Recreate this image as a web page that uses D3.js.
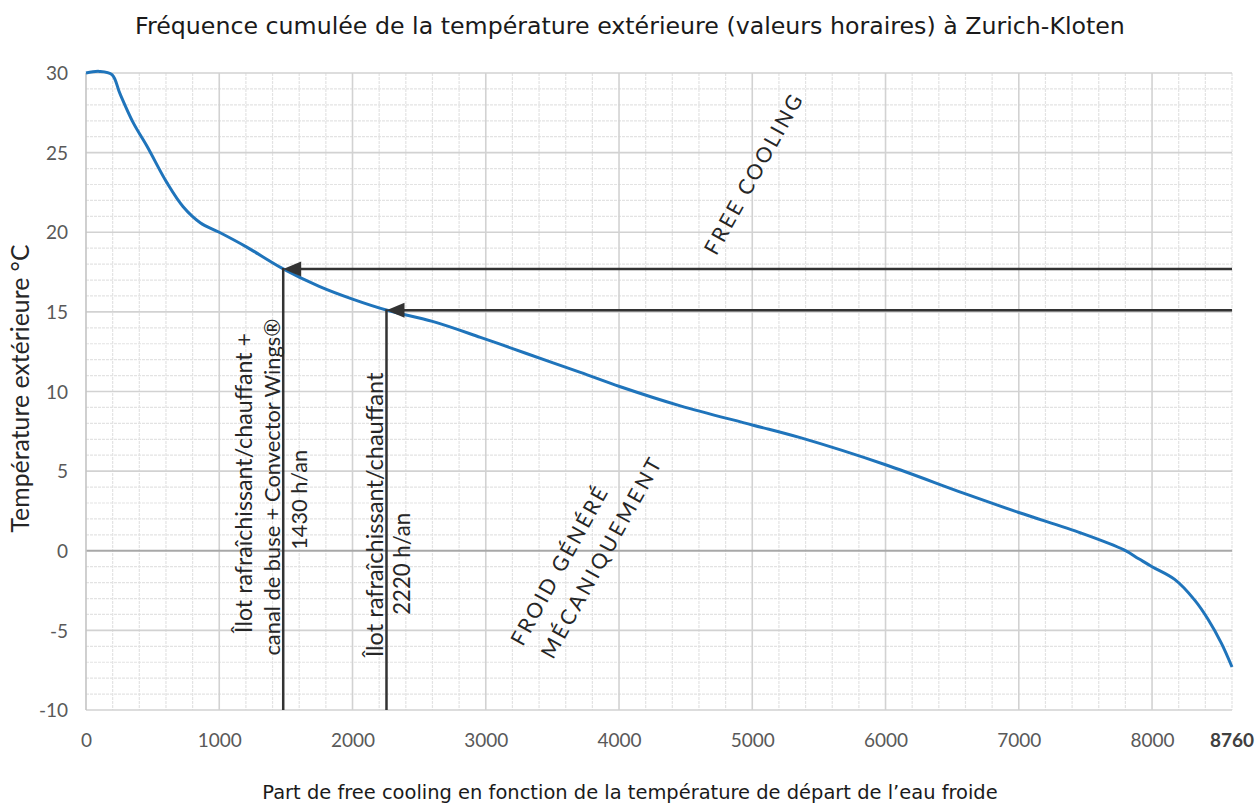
<!DOCTYPE html>
<html>
<head>
<meta charset="utf-8">
<script src="https://cdn.jsdelivr.net/npm/d3@7"></script>
<style>
  html, body { margin: 0; padding: 0; background: #fff; }
  svg { display: block; }
</style>
</head>
<body>
<svg id="chart" width="1260" height="807"></svg>
<script>
// ---------- data ----------
const hours = [0, 100, 195, 255, 353, 458, 608, 729, 857, 1000, 1200, 1480, 1750, 2000, 2260, 2600, 2960, 3300, 3710, 4010, 4460, 5000, 5360, 6000, 6590, 7000, 7470, 7790, 7900, 8000, 8170, 8320, 8420, 8520, 8600];
const temps = [30, 30.1, 29.9, 28.7, 26.9, 25.4, 23.1, 21.6, 20.6, 20.0, 19.1, 17.7, 16.6, 15.8, 15.1, 14.4, 13.4, 12.4, 11.2, 10.3, 9.1, 7.9, 7.1, 5.4, 3.6, 2.4, 1.1, 0.05, -0.5, -1.0, -1.8, -3.1, -4.3, -5.8, -7.3];

const xTicks = [0, 1000, 2000, 3000, 4000, 5000, 6000, 7000, 8000];
const xEndLabel = "8760";
const yTicks = [-10, -5, 0, 5, 10, 15, 20, 25, 30];

const cutoffHours = [1480, 2255];
const cutoffTemps = [17.7, 15.1];
const cutoffLabels = [
  ["Îlot rafraîchissant/chauffant +", "canal de buse + Convector Wings®", "1430 h/an"],
  ["Îlot rafraîchissant/chauffant", "2220 h/an"]
];

const titleText = "Fréquence cumulée de la température extérieure (valeurs horaires) à Zurich-Kloten";
const yAxisTitle = "Température extérieure °C";
const xAxisTitle = "Part de free cooling en fonction de la température de départ de l’eau froide";
const zoneLabels = ["FREE COOLING", "FROID GÉNÉRÉ", "MÉCANIQUEMENT"];

// ---------- layout ----------
const svg = d3.select("#chart");
const m = { left: 86, right: 28, top: 73, bottom: 97 };
const W = 1260, H = 807;

const x = d3.scaleLinear().domain([0, 8600]).range([m.left, W - m.right]);
const y = d3.scaleLinear().domain([-10, 30]).range([H - m.bottom, m.top]);

const labelFont = "Lato, 'Open Sans', sans-serif";
const titleFont = "'DejaVu Sans', 'Noto Sans', sans-serif";

// scale a text's font size so that its natural width matches a target width
function fitWidth(sel, target) {
  const w = sel.node().getComputedTextLength();
  const fs = +sel.attr("font-size");
  if (w > 0) sel.attr("font-size", (fs * target / w).toFixed(2));
  return sel;
}

// minor grid
const g = svg.append("g");
g.append("g").selectAll("line")
  .data(d3.range(0, 8601, 200).filter(v => v % 1000 !== 0))
  .join("line")
  .attr("x1", d => x(d)).attr("x2", d => x(d))
  .attr("y1", y(30)).attr("y2", y(-10))
  .attr("stroke", "#e3e3e3").attr("stroke-width", 1.2).attr("stroke-dasharray", "3,1");
g.append("g").selectAll("line")
  .data(d3.range(-10, 31, 1).filter(v => v % 5 !== 0))
  .join("line")
  .attr("x1", x(0)).attr("x2", x(8600))
  .attr("y1", d => y(d)).attr("y2", d => y(d))
  .attr("stroke", "#e3e3e3").attr("stroke-width", 1.2).attr("stroke-dasharray", "3,1");

// major grid
g.append("g").selectAll("line")
  .data(xTicks.filter(v => v !== 0))
  .join("line")
  .attr("x1", d => x(d)).attr("x2", d => x(d))
  .attr("y1", y(30)).attr("y2", y(-10))
  .attr("stroke", "#d2d2d2").attr("stroke-width", 1.6);
g.append("g").selectAll("line")
  .data(yTicks.filter(v => v !== 0))
  .join("line")
  .attr("x1", x(0)).attr("x2", x(8600))
  .attr("y1", d => y(d)).attr("y2", d => y(d))
  .attr("stroke", "#d2d2d2").attr("stroke-width", 1.6);

// zero line + left axis
g.append("line")
  .attr("x1", x(0)).attr("x2", x(8600)).attr("y1", y(0)).attr("y2", y(0))
  .attr("stroke", "#a8a8a8").attr("stroke-width", 1.8);
g.append("line")
  .attr("x1", x(0)).attr("x2", x(0)).attr("y1", y(30)).attr("y2", y(-10))
  .attr("stroke", "#c4c4c4").attr("stroke-width", 1.6);

// axes tick labels
const xAxis = d3.axisBottom(x).tickValues(xTicks).tickSize(0).tickPadding(0).tickFormat(d3.format("d"));
const xa = svg.append("g").attr("transform", `translate(0,${y(-10) + 37})`).call(xAxis);
xa.select(".domain").remove();
xa.selectAll("text").attr("font-family", labelFont).attr("font-size", 19).attr("fill", "#595959").attr("dy", 0);
xa.append("text")
  .attr("x", x(8600)).attr("y", 0)
  .attr("text-anchor", "middle")
  .attr("font-family", labelFont).attr("font-size", 19).attr("font-weight", 700).attr("fill", "#404040")
  .text(xEndLabel);

const yAxis = d3.axisLeft(y).tickValues(yTicks).tickSize(0).tickPadding(0)
  .tickFormat(d => (d < 0 ? "-" + Math.abs(d) : String(d)));
const ya = svg.append("g").attr("transform", `translate(${x(0) - 18},0)`).call(yAxis);
ya.select(".domain").remove();
ya.selectAll("text").attr("font-family", labelFont).attr("font-size", 19).attr("fill", "#595959").attr("dy", "0.35em");

// curve
const line = d3.line().x((d, i) => x(hours[i])).y((d, i) => y(temps[i])).curve(d3.curveCatmullRom.alpha(0.5));
svg.append("path")
  .datum(temps)
  .attr("d", line)
  .attr("fill", "none")
  .attr("stroke", "#1f74bb")
  .attr("stroke-width", 3)
  .attr("stroke-linejoin", "round");

// cutoff arrows
cutoffHours.forEach((h, i) => {
  svg.append("line")
    .attr("x1", x(h)).attr("x2", x(h))
    .attr("y1", y(cutoffTemps[i]) - 1).attr("y2", y(-10))
    .attr("stroke", "#333").attr("stroke-width", 2.5);
  svg.append("line")
    .attr("x1", x(8600)).attr("x2", x(h) + 16)
    .attr("y1", y(cutoffTemps[i])).attr("y2", y(cutoffTemps[i]))
    .attr("stroke", "#333").attr("stroke-width", 2.5);
  svg.append("path")
    .attr("d", `M${x(h)},${y(cutoffTemps[i])} l18,-7.5 l0,15 Z`)
    .attr("fill", "#333");
});

// vertical annotation labels (anchored in data space)
const annoPos = [
  [{ h: 1247, t: 4.26 }, { h: 1458, t: 4.0 }, { h: 1660, t: 3.2 }],
  [{ h: 2231, t: 2.25 }, { h: 2434, t: -0.82 }]
];
const annoLen = [[300, 337, 100], [285, 102]];
cutoffLabels.forEach((lines, i) => {
  lines.forEach((txt, j) => {
    const p = annoPos[i][j];
    const t = svg.append("text")
      .attr("transform", `translate(${x(p.h)},${y(p.t)}) rotate(-90)`)
      .attr("text-anchor", "middle")
      .attr("font-family", labelFont).attr("font-size", 21).attr("fill", "#262626")
      .text(txt);
    fitWidth(t, annoLen[i][j]);
  });
});

// zone labels
const zonePos = [{ h: 5056, t: 23.4 }, { h: 3599, t: -1.2 }, { h: 3914, t: -0.7 }];
const zoneLen = [179, 177, 225];
zoneLabels.forEach((txt, i) => {
  const p = zonePos[i];
  svg.append("text")
    .attr("transform", `translate(${x(p.h)},${y(p.t)}) rotate(-61)`)
    .attr("text-anchor", "middle")
    .attr("font-family", labelFont).attr("font-size", 21).attr("font-weight", 400).attr("fill", "#262626")
    .attr("textLength", zoneLen[i]).attr("lengthAdjust", "spacing")
    .text(txt);
});

// titles
fitWidth(svg.append("text")
  .attr("x", 630).attr("y", 34)
  .attr("text-anchor", "middle")
  .attr("font-family", titleFont).attr("font-size", 20).attr("font-weight", 400).attr("fill", "#1a1a1a")
  .text(titleText), 990);

fitWidth(svg.append("text")
  .attr("transform", `translate(29,${(y(30) + y(-10)) / 2 - 3}) rotate(-90)`)
  .attr("text-anchor", "middle")
  .attr("font-family", labelFont).attr("font-size", 20).attr("fill", "#262626")
  .text(yAxisTitle), 288);

fitWidth(svg.append("text")
  .attr("x", 630).attr("y", 799)
  .attr("text-anchor", "middle")
  .attr("font-family", titleFont).attr("font-size", 18).attr("font-weight", 400).attr("fill", "#1a1a1a")
  .text(xAxisTitle), 736);
</script>
</body>
</html>
